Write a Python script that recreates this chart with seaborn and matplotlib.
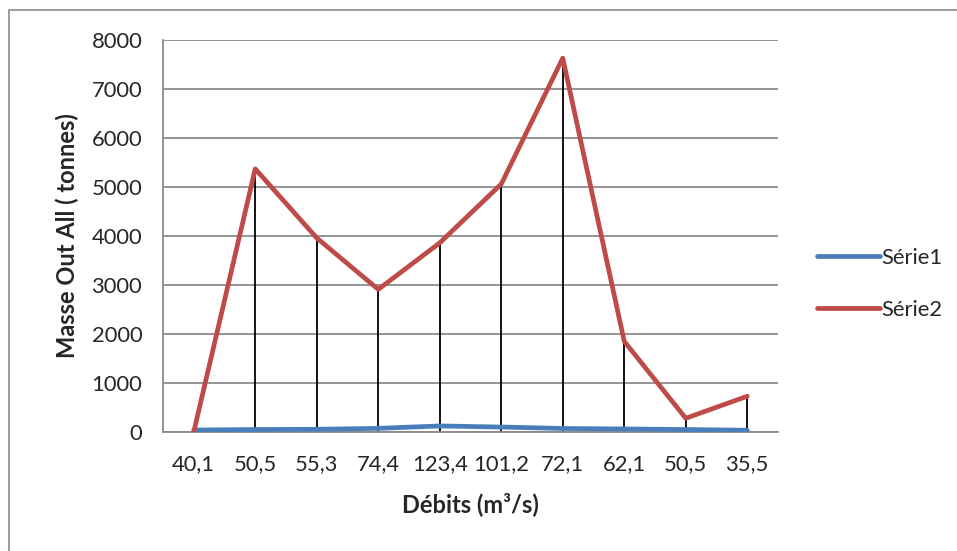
import numpy as np
import pandas as pd
import seaborn as sns
import matplotlib.pyplot as plt
from matplotlib.patches import Rectangle

categories = ['40,1', '50,5', '55,3', '74,4', '123,4', '101,2', '72,1', '62,1', '50,5', '35,5']
serie1 = [40.1, 50.5, 55.3, 74.4, 123.4, 101.2, 72.1, 62.1, 50.5, 35.5]
serie2 = [0, 5370, 3960, 2910, 3860, 5060, 7630, 1850, 280, 730]
series_names = ['Série1', 'Série2']
colors = ['#4a7ebb', '#be4b48']

sns.set_style('white')
plt.rcParams['font.family'] = ['Lato', 'DejaVu Sans']
fs = 15.8
fs_lab = 17

pos = np.arange(len(categories))
df = pd.DataFrame({
    'pos': np.concatenate([pos, pos]),
    'value': serie1 + serie2,
    'serie': [series_names[0]] * len(pos) + [series_names[1]] * len(pos),
})

fig = plt.figure(figsize=(9.57, 5.51), dpi=100)
ax = fig.add_axes([163 / 957, 1 - 432 / 551, 615 / 957, 392 / 551])

# outer chart border (right/bottom edges fall off the picture)
fig.patches.append(Rectangle((9 / 957, -0.1), 1.2, 1 - 10 / 551 + 0.1,
                             transform=fig.transFigure, fill=False,
                             edgecolor='#8c8c8c', lw=1.2))

# drop lines
tops = np.maximum(serie1, serie2)
ax.vlines(pos, 0, tops, color='black', lw=1.3, zorder=2)

sns.lineplot(data=df, x='pos', y='value', hue='serie', palette=colors,
             linewidth=3.4, ax=ax, zorder=3, legend=True)

ax.set_xlim(-0.5, len(categories) - 0.5)
ax.set_ylim(0, 8000)
ax.set_yticks(np.arange(0, 8001, 1000))
ax.set_xticks(pos)
ax.set_xticklabels(categories)
ax.grid(axis='y', color='#8c8c8c', lw=1.3)
ax.set_axisbelow(True)
for s in ['top', 'right']:
    ax.spines[s].set_visible(False)
for s in ['left', 'bottom']:
    ax.spines[s].set_color('#8c8c8c')
    ax.spines[s].set_linewidth(1.3)
ax.tick_params(axis='y', length=7, width=1.3, color='#8c8c8c', pad=8, labelsize=fs)
ax.tick_params(axis='x', length=0, pad=16, labelsize=fs)

ax.set_xlabel('Débits (m³/s)', fontsize=fs_lab, fontweight='bold', labelpad=13)
ax.set_ylabel('Masse Out All ( tonnes)', fontsize=fs_lab, fontweight='bold', labelpad=9)

leg = ax.legend(loc='center left', bbox_to_anchor=(1.032, 0.378), frameon=False,
                fontsize=fs, handlelength=2.85, handletextpad=0.05, labelspacing=1.45)
for line in leg.get_lines():
    line.set_linewidth(3.4)

fig.savefig('out.png', dpi=100)
